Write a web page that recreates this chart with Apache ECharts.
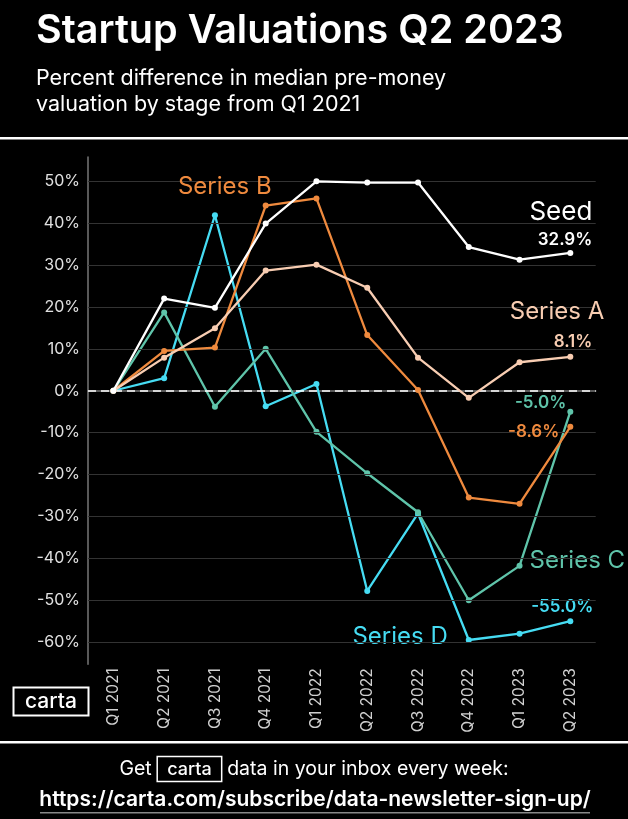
<!DOCTYPE html>
<html>
<head>
<meta charset="utf-8">
<script src="https://cdn.jsdelivr.net/npm/echarts@6/dist/echarts.min.js"></script>
<style>
html,body{margin:0;padding:0;background:#000;}
#chart{width:628px;height:819px;}
</style>
</head>
<body>
<div id="chart"></div>
<script>
// ---- data ----
const categories = ['Q1 2021','Q2 2021','Q3 2021','Q4 2021','Q1 2022','Q2 2022','Q3 2022','Q4 2022','Q1 2023','Q2 2023'];
const seed    = [0, 22.0, 19.8, 39.9, 50.0, 49.7, 49.7, 34.3, 31.3, 32.9];
const seriesA = [0, 7.9, 14.9, 28.7, 30.1, 24.6, 7.9, -1.7, 6.8, 8.1];
const seriesB = [0, 9.5, 10.3, 44.2, 45.9, 13.3, 0.2, -25.5, -27.0, -8.6];
const seriesC = [0, 18.7, -3.8, 10.0, -9.8, -19.7, -29.0, -50.0, -41.8, -5.0];
const seriesD = [0, 3.0, 41.9, -3.7, 1.6, -47.8, -29.3, -59.5, -58.0, -55.0];
const yTicks  = [-60, -50, -40, -30, -20, -10, 0, 10, 20, 30, 40, 50];
const yMin = -65.3, yMax = 55.8;

const FONT = 'Inter, "Noto Sans", sans-serif';
const COL = { seed:'#ffffff', A:'#f8cdb2', B:'#ef8a3e', C:'#5fc4aa', D:'#46dcf3' };

const fmt = v => v.toFixed(1) + '%';

// Build data items, attaching label configs to particular indices
function build(vals, labels) {
  return vals.map((v, i) => labels[i] ? { value: v, label: labels[i] } : v);
}
function lab(color, opts) {
  return Object.assign({ show: true, position: 'inside', verticalAlign: 'middle', color: color, fontFamily: FONT }, opts);
}
const last = categories.length - 1;
const NAME_SIZE = 24, VAL_SIZE = 17, VAL_W = 600;

const seedLabels = {};
seedLabels[last] = lab(COL.seed, { align: 'right', offset: [22, -27],
  formatter: '{n|Seed}\n{v|' + fmt(seed[last]) + '}',
  rich: { n: { fontSize: 26, color: COL.seed, lineHeight: 28, fontFamily: FONT },
          v: { fontSize: VAL_SIZE, fontWeight: VAL_W, color: COL.seed, lineHeight: 28, fontFamily: FONT } } });

const aLabels = {};
aLabels[last] = lab(COL.A, { align: 'right', offset: [34, -30],
  formatter: '{n|Series A}\n{v|' + fmt(seriesA[last]) + '}',
  rich: { n: { fontSize: NAME_SIZE, color: COL.A, lineHeight: 31, fontFamily: FONT },
          v: { fontSize: VAL_SIZE, fontWeight: VAL_W, color: COL.A, lineHeight: 31, padding: [0, 12, 0, 0], fontFamily: FONT } } });

const bLabels = {};
bLabels[3] = lab(COL.B, { align: 'right', offset: [6, -19], fontSize: NAME_SIZE, formatter: 'Series B' });
bLabels[last] = lab(COL.B, { align: 'right', offset: [-11, 5], fontSize: VAL_SIZE, fontWeight: VAL_W, formatter: fmt(seriesB[last]) });

const cLabels = {};
cLabels[8] = lab(COL.C, { align: 'left', offset: [10, -5], fontSize: NAME_SIZE, formatter: 'Series C' });
cLabels[last] = lab(COL.C, { align: 'right', offset: [-4, -9], fontSize: VAL_SIZE, fontWeight: VAL_W, formatter: fmt(seriesC[last]) });

const dLabels = {};
dLabels[7] = lab(COL.D, { align: 'right', offset: [-21, -3], fontSize: NAME_SIZE, formatter: 'Series D' });
dLabels[last] = lab(COL.D, { align: 'right', offset: [23, -14], fontSize: VAL_SIZE, fontWeight: VAL_W, formatter: fmt(seriesD[last]) });

function lineSeries(name, vals, color, labels, z) {
  return {
    name: name, type: 'line', data: build(vals, labels), z: z,
    symbol: 'circle', symbolSize: 6, showSymbol: true,
    lineStyle: { color: color, width: 2.3 },
    itemStyle: { color: color },
    label: { show: false },
    emphasis: { disabled: true },
    animation: false
  };
}

const gridLines = yTicks.map(t => t === 0
  ? { yAxis: t, lineStyle: { color: '#ffffff', type: [8, 5], width: 1.5 } }
  : { yAxis: t, lineStyle: { color: '#333333', type: 'solid', width: 1 } });

const option = {
  backgroundColor: '#000000',
  animation: false,
  title: {
    left: 36, top: 8, padding: 0,
    text: 'Startup Valuations Q2 2023',
    textStyle: { color: '#ffffff', fontSize: 39.5, fontWeight: 600, fontFamily: FONT, lineHeight: 46 },
    subtext: 'Percent difference in median pre-money\nvaluation by stage from Q1 2021',
    subtextStyle: { color: '#ffffff', fontSize: 21.5, fontWeight: 400, fontFamily: FONT, lineHeight: 26 },
    itemGap: 12
  },
  grid: { left: 88, right: 32.3, top: 157, bottom: 154.7, containLabel: false },
  xAxis: {
    type: 'category', data: categories, boundaryGap: true,
    axisLine: { show: true, lineStyle: { color: '#777777', width: 1.5 } },
    axisTick: { show: false },
    axisLabel: { rotate: 90, margin: 4, color: '#d0d0d0', fontSize: 15.5, fontFamily: FONT, interval: 0 },
    splitLine: { show: false }
  },
  yAxis: {
    type: 'value', min: yMin, max: yMax,
    axisLine: { show: true, lineStyle: { color: '#777777', width: 1.5 } },
    axisTick: { show: false },
    splitLine: { show: false },
    axisLabel: { customValues: yTicks, formatter: v => v + '%', color: '#e0e0e0', fontSize: 16, fontFamily: FONT, margin: 8 }
  },
  series: [
    { name: 'grid', type: 'line', data: [], z: 1, silent: true,
      markLine: { silent: true, symbol: 'none', label: { show: false }, animation: false, data: gridLines } },
    lineSeries('Series D', seriesD, COL.D, dLabels, 3),
    lineSeries('Series C', seriesC, COL.C, cLabels, 4),
    lineSeries('Series B', seriesB, COL.B, bLabels, 5),
    lineSeries('Series A', seriesA, COL.A, aLabels, 6),
    lineSeries('Seed', seed, COL.seed, seedLabels, 7)
  ],
  graphic: [
    { type: 'rect', left: 0, top: 137, shape: { width: 628, height: 2.5 }, style: { fill: '#ffffff' } },
    { type: 'rect', left: 0, top: 741, shape: { width: 628, height: 2.5 }, style: { fill: '#ffffff' } },
    { type: 'group', left: 11, top: 685, children: [
      { type: 'rect', shape: { x: 0, y: 0, width: 75, height: 28 }, style: { fill: 'none', stroke: '#ffffff', lineWidth: 2 } },
      { type: 'text', x: 37.5, y: 14, style: { text: 'carta', fill: '#ffffff', font: '500 21px ' + FONT, align: 'center', verticalAlign: 'middle' } }
    ]},
    { type: 'text', x: 314, y: 769,
      style: { text: 'Get {b|carta} data in your inbox every week:', fill: '#ffffff', font: '400 19.5px ' + FONT,
               align: 'center', verticalAlign: 'middle',
               rich: { b: { fill: '#ffffff', font: '500 18px ' + FONT, borderColor: '#ffffff', borderWidth: 1.5, padding: [4, 10, 3, 10] } } } },
    { type: 'text', x: 315, y: 800,
      style: { text: 'https://carta.com/subscribe/data-newsletter-sign-up/', fill: '#ffffff', font: '600 21px ' + FONT,
               align: 'center', verticalAlign: 'middle' } },
    { type: 'rect', left: 40, top: 812, shape: { width: 550, height: 1.5 }, style: { fill: '#888888' } }
  ]
};

const chart = echarts.init(document.getElementById('chart'), null, { renderer: 'canvas' });
chart.setOption(option);
</script>
</body>
</html>
